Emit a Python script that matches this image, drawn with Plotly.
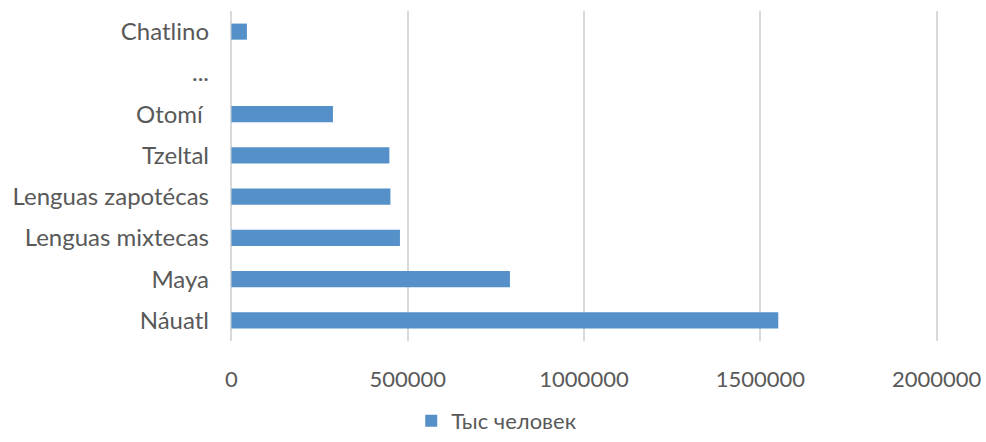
import plotly.graph_objects as go

categories = ["Náuatl", "Maya", "Lenguas mixtecas", "Lenguas zapotécas", "Tzeltal", "Otomí ", "...", "Chatlino"]
values = [1551000, 790000, 478000, 451000, 448000, 288000, None, 44000]
series_name = "Тыс человек"
x_ticks = [0, 500000, 1000000, 1500000, 2000000]
x_tick_labels = ["0", "500000", "1000000", "1500000", "2000000"]

text_color = "#595959"
font_family = "Lato, 'Open Sans', sans-serif"

fig = go.Figure()
fig.add_trace(go.Bar(
    y=categories, x=values, orientation="h", name=series_name,
    marker=dict(color="#5591C8", line=dict(width=0)),
    showlegend=True,
))

fig.update_layout(
    width=986, height=442,
    margin=dict(l=230, r=48, t=11, b=101, autoexpand=False),
    paper_bgcolor="white", plot_bgcolor="white",
    bargap=0.61,
    font=dict(family=font_family, color=text_color, size=22),
    xaxis=dict(
        range=[-4000, 2004000], tickvals=x_ticks, ticktext=x_tick_labels,
        showgrid=True, gridcolor="#D9D9D9", gridwidth=2,
        zeroline=False, showline=False, ticks="",
        tickfont=dict(size=22, color=text_color),
        ticklabelstandoff=23,
        automargin=False,
    ),
    yaxis=dict(
        type="category", categoryorder="array", categoryarray=categories,
        showgrid=False, zeroline=False, showline=False, ticks="",
        tickfont=dict(size=24, color=text_color),
        ticklabelstandoff=20,
        automargin=False,
    ),
    legend=dict(
        orientation="h", x=0.256, xanchor="left", y=-0.306, yanchor="bottom",
        font=dict(size=22, color=text_color),
        itemwidth=30,
    ),
)

fig.write_html("out.html")
